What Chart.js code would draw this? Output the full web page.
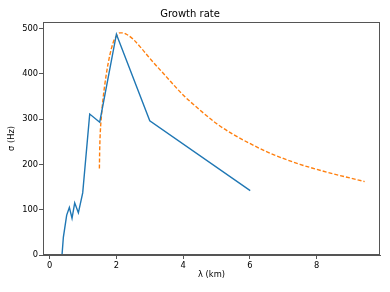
<!DOCTYPE html>
<html lang="en">
  <head>
    <meta charset="UTF-8" />
    <title>Growth rate</title>
    <script src="https://cdn.jsdelivr.net/npm/chart.js"></script>
    <style>
      * {
        margin: 0;
        padding: 0;
        box-sizing: border-box;
      }

      body {
        background: #ffffff;
      }

      #growthChart {
        display: block;
      }
    </style>
  </head>
  <body>
    <canvas id="growthChart" width="390" height="292"></canvas>

    <script>
      // Measured curve (blue, solid)
      const measuredX = [0.37, 0.41, 0.51, 0.59, 0.67, 0.75, 0.86, 0.99, 1.2, 1.5, 2.0, 3.0, 6.01];
      const measuredY = [0, 39, 88, 105, 81, 115, 93, 137, 311, 293, 487, 296, 142];

      // Theoretical curve (orange, dashed)
      const theoryX = [1.49, 1.5, 1.52, 1.55, 1.6, 1.7, 1.8, 1.9, 2.0, 2.1, 2.2, 2.3, 2.5, 2.75, 3.0,
        3.5, 4.0, 4.5, 5.0, 5.5, 6.0, 6.5, 7.0, 7.5, 8.0, 8.5, 9.0, 9.44];
      const theoryY = [191, 235, 275, 305, 345, 400, 440, 468, 483, 490, 490, 487, 476, 456, 434,
        393, 353, 320, 290, 266, 246, 228, 213, 200, 189, 179, 170, 162];

      const xTicks = [0, 2, 4, 6, 8];
      const yTicks = [0, 100, 200, 300, 400, 500];

      const toPoints = (xs, ys) => xs.map((x, i) => ({ x: x, y: ys[i] }));

      const font = "DejaVu Sans";
      const axisColor = "#555";

      // matplotlib-style box around the plot area
      const frame = {
        id: "frame",
        afterDraw(chart) {
          const { ctx, chartArea: a } = chart;
          ctx.save();
          ctx.strokeStyle = axisColor;
          ctx.lineWidth = 1;
          ctx.strokeRect(a.left + 0.5, a.top + 0.5, a.right - a.left - 1, a.bottom - a.top - 1);
          ctx.restore();
        },
      };

      new Chart(document.getElementById("growthChart"), {
        type: "line",
        data: {
          datasets: [
            {
              data: toPoints(measuredX, measuredY),
              borderColor: "#1f77b4",
              borderWidth: 1.4,
              pointRadius: 0,
              tension: 0,
            },
            {
              data: toPoints(theoryX, theoryY),
              borderColor: "#ff7f0e",
              borderWidth: 1.4,
              borderDash: [4, 2],
              pointRadius: 0,
              cubicInterpolationMode: "monotone",
            },
          ],
        },
        options: {
          responsive: false,
          animation: false,
          devicePixelRatio: 1,
          layout: { padding: { left: 0, right: 10, top: 0, bottom: 0 } },
          plugins: {
            legend: { display: false },
            tooltip: { enabled: false },
            title: {
              display: true,
              text: "Growth rate",
              color: "#000",
              font: { family: font, size: 10, weight: "normal" },
              padding: { top: 8, bottom: 2 },
            },
          },
          scales: {
            x: {
              type: "linear",
              min: -0.2,
              max: 9.9,
              afterBuildTicks: (scale) => {
                scale.ticks = xTicks.map((v) => ({ value: v }));
              },
              afterFit: (scale) => {
                scale.height = 37;
              },
              grid: { drawOnChartArea: false, drawTicks: true, tickLength: 4, color: axisColor },
              border: { display: true, color: axisColor },
              ticks: { color: "#000", padding: 2, font: { family: font, size: 8.3 } },
              title: {
                display: true,
                text: "λ (km)",
                color: "#000",
                font: { family: font, size: 8.3 },
                padding: { top: 0, bottom: 12 },
              },
            },
            y: {
              type: "linear",
              min: 0,
              max: 514,
              afterBuildTicks: (scale) => {
                scale.ticks = yTicks.map((v) => ({ value: v }));
              },
              afterFit: (scale) => {
                scale.width = 43;
              },
              grid: { drawOnChartArea: false, drawTicks: true, tickLength: 4, color: axisColor },
              border: { display: true, color: axisColor },
              ticks: { color: "#000", padding: 1, font: { family: font, size: 8.3 } },
              title: {
                display: true,
                text: "σ (Hz)",
                color: "#000",
                font: { family: font, size: 8.3 },
                padding: { top: 7, bottom: 0 },
              },
            },
          },
        },
        plugins: [frame],
      });
    </script>
  </body>
</html>
